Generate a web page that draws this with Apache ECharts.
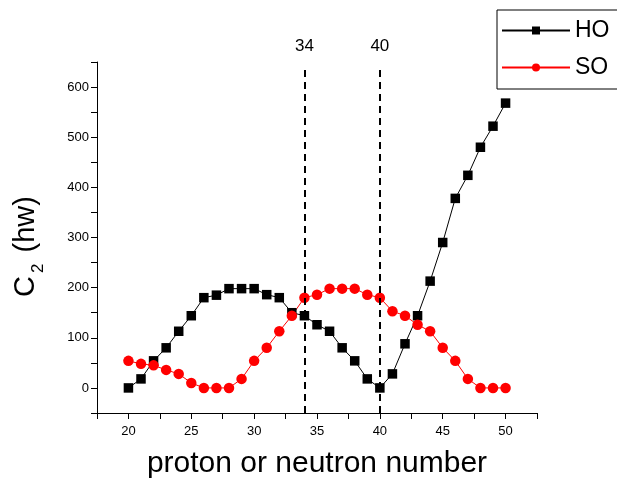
<!DOCTYPE html>
<html><head><meta charset="utf-8">
<script src="https://cdn.jsdelivr.net/npm/echarts@6/dist/echarts.min.js"></script>
<style>html,body{margin:0;padding:0;background:#fff}#c{width:617px;height:479px}</style>
</head><body><div id="c"></div>
<script>
const nucleons = [20,21,22,23,24,25,26,27,28,29,30,31,32,33,34,35,36,37,38,39,40,41,42,43,44,45,46,47,48,49,50];
const hoValues = [0,18,54,80,113,144,180,185,198,198,198,186,180,150,144,126,113,80,54,18,0,28,88,144,213,290,378,424,480,522,568];
const soValues = [54,48,45,36,28,10,0,0,0,18,54,80,113,144,180,186,198,198,198,186,180,153,144,126,113,80,54,18,0,0,0];
const xTickLabels = [20,25,30,35,40,45,50];
const yTickLabels = [0,100,200,300,400,500,600];
const shellMarks = [34,40];

const font = 'Liberation Sans, Arial, sans-serif';
const chart = echarts.init(document.getElementById('c'));
const pairs = (vals) => nucleons.map((n,i)=>[n, vals[i]]);
chart.setOption({
  animation:false,
  textStyle:{fontFamily:font},
  grid:{left:97,right:80,top:62,bottom:66, outerBoundsMode:'none', containLabel:false},
  legend:{
    left:497, top:10, orient:'vertical',
    itemWidth:68, itemHeight:10, itemGap:14,
    padding:[9,40,10,4],
    borderColor:'#000', borderWidth:1,
    textStyle:{fontSize:23, color:'#000', fontFamily:font},
    data:['HO','SO']
  },
  xAxis:{
    type:'value', min:17.5, max:52.5, interval:2.5,
    name:'proton or neutron number', nameLocation:'middle', nameGap:36,
    nameTextStyle:{fontSize:30, color:'#000', fontFamily:font},
    axisLine:{onZero:false, lineStyle:{color:'#000', width:1}},
    axisTick:{length:6, lineStyle:{color:'#000'}},
    axisLabel:{customValues:xTickLabels, color:'#000', fontSize:13, margin:12, fontFamily:font},
    splitLine:{show:false}
  },
  yAxis:{
    type:'value', min:-50, max:650, interval:50,
    name:'{a|C}{b|2}{a| (hw)}', nameLocation:'middle', nameGap:50,
    nameTextStyle:{color:'#000', padding:[0,18,0,0], rich:{
      a:{fontSize:29, color:'#000', fontFamily:font},
      b:{fontSize:17, color:'#000', fontFamily:font, padding:[26,3,0,3]}
    }},
    axisLine:{show:true, onZero:false, lineStyle:{color:'#000', width:1}},
    axisTick:{show:true, length:6, lineStyle:{color:'#000'}},
    axisLabel:{customValues:yTickLabels, color:'#000', fontSize:13, margin:8, fontFamily:font},
    splitLine:{show:false}
  },
  series:[
    {name:'HO', type:'line', data:pairs(hoValues), symbol:'rect', symbolSize:9.5,
     lineStyle:{color:'#000', width:1}, itemStyle:{color:'#000'},
     markLine:{silent:true, symbol:'none',
       lineStyle:{color:'#000', type:[7,5], width:2},
       label:{show:true, position:'end', color:'#000', fontSize:17, distance:15, fontFamily:font},
       data: shellMarks.map(v=>[{coord:[v,-50], label:{formatter:String(v)}},{coord:[v,635]}])
     }},
    {name:'SO', type:'line', data:pairs(soValues), symbol:'circle', symbolSize:10.5,
     lineStyle:{color:'#f00', width:1}, itemStyle:{color:'#f00'}}
  ]
});
</script></body></html>
